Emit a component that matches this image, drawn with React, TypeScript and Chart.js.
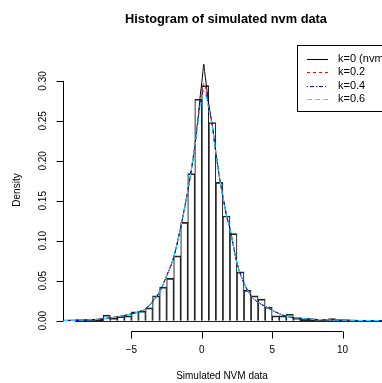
import React, { useEffect, useRef } from "react";
import { Chart, registerables } from "chart.js";

Chart.register(...registerables);

// Histogram: bins of width 0.5 starting at -9
const binStart = -9;
const binWidth = 0.5;
const histDensity = [
  0.001, 0.001, 0.001, 0.002, 0.007, 0.003, 0.005, 0.006, 0.011, 0.012,
  0.016, 0.031, 0.042, 0.053, 0.081, 0.123, 0.184, 0.277, 0.294, 0.248,
  0.173, 0.131, 0.109, 0.061, 0.038, 0.031, 0.027, 0.017, 0.006, 0.006,
  0.008, 0.003, 0.002, 0.002, 0.001, 0.001, 0.0025, 0.001, 0.001, 0.0005,
  0.0005, 0.0005, 0.0005, 0,
];

// Density curves sampled at these x values
const curveX = [
  -9.86, -9, -8, -7, -6, -5, -4.5, -4, -3.5, -3, -2.5, -2, -1.5, -1, -0.75,
  -0.5, -0.25, -0.1, 0, 0.07, 0.14, 0.21, 0.3, 0.5, 0.75, 1, 1.25, 1.5, 1.75,
  2, 2.5, 3, 3.5, 4, 4.5, 5, 6, 7, 8, 9, 10, 11, 12.8,
];
const k0 = [
  0.0003, 0.0005, 0.001, 0.0025, 0.0048, 0.0085, 0.011, 0.0145, 0.024, 0.036,
  0.056, 0.079, 0.117, 0.162, 0.188, 0.218, 0.256, 0.283, 0.298, 0.31, 0.321,
  0.31, 0.298, 0.27, 0.244, 0.21, 0.18, 0.155, 0.132, 0.115, 0.072, 0.047,
  0.031, 0.023, 0.018, 0.013, 0.0055, 0.003, 0.0017, 0.001, 0.0006, 0.0003,
  0.0001,
];
const k02 = [
  0.0003, 0.0005, 0.001, 0.0025, 0.0048, 0.0085, 0.011, 0.0145, 0.024, 0.036,
  0.056, 0.079, 0.117, 0.162, 0.188, 0.218, 0.254, 0.276, 0.287, 0.293, 0.297,
  0.295, 0.289, 0.268, 0.244, 0.21, 0.18, 0.155, 0.132, 0.115, 0.072, 0.047,
  0.031, 0.023, 0.018, 0.013, 0.0055, 0.003, 0.0017, 0.001, 0.0006, 0.0003,
  0.0001,
];
const k04 = [
  0.0003, 0.0005, 0.001, 0.0025, 0.0048, 0.0085, 0.011, 0.0145, 0.024, 0.036,
  0.056, 0.079, 0.117, 0.162, 0.188, 0.218, 0.252, 0.272, 0.281, 0.286, 0.288,
  0.287, 0.283, 0.266, 0.243, 0.21, 0.18, 0.155, 0.132, 0.115, 0.072, 0.047,
  0.031, 0.023, 0.018, 0.013, 0.0055, 0.003, 0.0017, 0.001, 0.0006, 0.0003,
  0.0001,
];
const k06 = [
  0.0003, 0.0005, 0.001, 0.0025, 0.0048, 0.0085, 0.011, 0.0145, 0.024, 0.036,
  0.056, 0.079, 0.117, 0.162, 0.188, 0.218, 0.25, 0.269, 0.278, 0.282, 0.284,
  0.283, 0.28, 0.264, 0.242, 0.21, 0.18, 0.155, 0.132, 0.115, 0.072, 0.047,
  0.031, 0.023, 0.018, 0.013, 0.0055, 0.003, 0.0017, 0.001, 0.0006, 0.0003,
  0.0001,
];

const xTicks = [-5, 0, 5, 10];
const yTicks = [0, 0.05, 0.1, 0.15, 0.2, 0.25, 0.3];
const yTickLabels = ["0.00", "0.05", "0.10", "0.15", "0.20", "0.25", "0.30"];
const legendLabels = ["k=0 (nvm)", "k=0.2", "k=0.4", "k=0.6"];
const seriesColors = ["#000000", "#ff0000", "#0000ff", "#00ffff"];
const seriesDash: number[][] = [[], [3, 3], [1, 2, 4, 2], [5, 3]];

const FONT = "'Liberation Sans', Arial, Helvetica, sans-serif";

const decorPlugin = {
  id: "rdecor",
  afterDraw(chart: any) {
    const ctx = chart.ctx as CanvasRenderingContext2D;
    const xs = chart.scales.x;
    const ys = chart.scales.y;
    const area = chart.chartArea;
    ctx.save();
    ctx.strokeStyle = "#000";
    ctx.fillStyle = "#000";
    ctx.lineWidth = 1;
    ctx.setLineDash([]);

    // histogram baseline (bottom edges of the bins)
    const histEnd = binStart + binWidth * histDensity.length;
    ctx.strokeStyle = "#222";
    ctx.beginPath();
    const y0 = Math.round(ys.getPixelForValue(0)) + 0.5;
    ctx.moveTo(xs.getPixelForValue(binStart), y0);
    ctx.lineTo(xs.getPixelForValue(histEnd), y0);
    ctx.stroke();
    ctx.strokeStyle = "#000";

    // y axis
    const ax = Math.round(area.left) + 0.5;
    ctx.beginPath();
    ctx.moveTo(ax, ys.getPixelForValue(yTicks[0]));
    ctx.lineTo(ax, ys.getPixelForValue(yTicks[yTicks.length - 1]));
    yTicks.forEach((t) => {
      const py = Math.round(ys.getPixelForValue(t)) + 0.5;
      ctx.moveTo(ax, py);
      ctx.lineTo(ax - 7, py);
    });
    ctx.stroke();
    ctx.font = `10px ${FONT}`;
    ctx.textAlign = "center";
    ctx.textBaseline = "middle";
    yTicks.forEach((t, i) => {
      const py = ys.getPixelForValue(t);
      ctx.save();
      ctx.translate(area.left - 20, py);
      ctx.rotate(-Math.PI / 2);
      ctx.fillText(yTickLabels[i], 0, 0);
      ctx.restore();
    });

    // x axis
    const ay = Math.round(area.bottom) + 0.5;
    ctx.beginPath();
    ctx.moveTo(xs.getPixelForValue(xTicks[0]), ay);
    ctx.lineTo(xs.getPixelForValue(xTicks[xTicks.length - 1]), ay);
    xTicks.forEach((t) => {
      const px = Math.round(xs.getPixelForValue(t)) + 0.5;
      ctx.moveTo(px, ay);
      ctx.lineTo(px, ay + 7);
    });
    ctx.stroke();
    xTicks.forEach((t) => {
      const lab = t < 0 ? "\u2212" + Math.abs(t) : String(t);
      ctx.fillText(lab, xs.getPixelForValue(t), ay + 19);
    });

    // axis titles
    ctx.fillText("Simulated NVM data", 222, 376);
    ctx.save();
    ctx.translate(17, 190);
    ctx.rotate(-Math.PI / 2);
    ctx.fillText("Density", 0, 0);
    ctx.restore();

    // main title
    ctx.font = `bold 12.8px ${FONT}`;
    ctx.fillText("Histogram of simulated nvm data", 226, 19);

    // legend
    ctx.fillStyle = "#fff";
    ctx.fillRect(297.5, 45.5, 120, 66);
    ctx.strokeStyle = "#000";
    ctx.strokeRect(297.5, 45.5, 120, 66);
    ctx.font = `11px ${FONT}`;
    ctx.textAlign = "left";
    legendLabels.forEach((lab, i) => {
      const ry = 59 + i * 13.4;
      ctx.strokeStyle = seriesColors[i];
      ctx.setLineDash(seriesDash[i]);
      ctx.beginPath();
      ctx.moveTo(307, Math.round(ry) + 0.5);
      ctx.lineTo(328, Math.round(ry) + 0.5);
      ctx.stroke();
      ctx.setLineDash([]);
      ctx.fillStyle = "#000";
      ctx.fillText(lab, 338, ry);
    });
    ctx.restore();
  },
};

export default function App() {
  const ref = useRef<HTMLCanvasElement | null>(null);
  useEffect(() => {
    if (!ref.current) return;
    const barData = histDensity.map((d, i) => ({
      x: binStart + binWidth * i + binWidth / 2,
      y: d,
    }));
    const curve = (vals: number[]) => curveX.map((x, i) => ({ x, y: vals[i] }));
    const curves = [k0, k02, k04, k06];
    const chart = new Chart(ref.current, {
      type: "bar",
      data: {
        datasets: [
          {
            type: "bar",
            label: "hist",
            data: barData as any,
            backgroundColor: "rgba(0,0,0,0)",
            borderColor: "#222",
            borderWidth: { top: 1, left: 0.5, right: 0.5, bottom: 0 } as any,
            barPercentage: 1,
            categoryPercentage: 1,
            grouped: false,
            order: 5,
          } as any,
          ...curves.map((vals, i) => ({
            type: "line",
            label: legendLabels[i],
            data: curve(vals),
            borderColor: seriesColors[i],
            borderWidth: 1,
            borderDash: seriesDash[i],
            pointRadius: 0,
            fill: false,
            cubicInterpolationMode: "monotone",
            order: 4 - i,
          })) as any,
        ],
      },
      options: {
        animation: false,
        responsive: false,
        devicePixelRatio: 1,
        layout: { padding: { left: 63, right: 0, top: 53, bottom: 52 } },
        plugins: {
          legend: { display: false },
          title: { display: false },
          tooltip: { enabled: false },
        },
        scales: {
          x: { type: "linear", min: -9.86, max: 12.8, display: false, offset: false },
          y: { type: "linear", min: -0.0129, max: 0.3349, display: false },
        },
      },
      plugins: [decorPlugin],
    });
    return () => chart.destroy();
  }, []);
  return (
    <div style={{ position: "absolute", left: 0, top: 0, width: 382, height: 383, background: "#fff" }}>
      <canvas ref={ref} width={382} height={383} style={{ width: 382, height: 383 }} />
    </div>
  );
}
